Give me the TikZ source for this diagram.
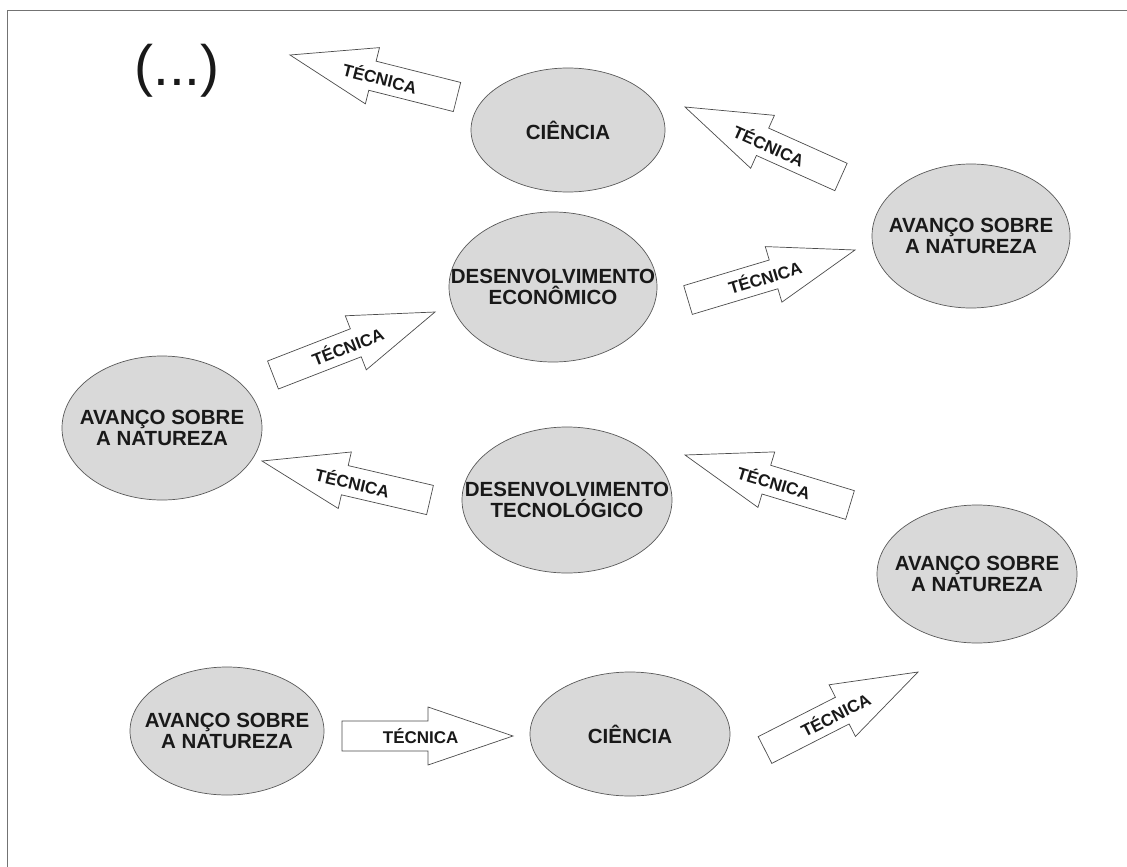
\documentclass[tikz,border=0pt]{standalone}
\usepackage{fontspec}
\setmainfont{Liberation Sans}
\usetikzlibrary{calc,shapes.geometric}

\tikzset{
  etapa/.style={ellipse, draw=black!65, fill=black!15, line width=0.7pt, inner sep=0pt},
  etapatexto/.style={font=\bfseries\fontsize{20.5}{21}\selectfont, align=center, text=black!90},
  seta/.style={draw=black!70, fill=white, line width=0.7pt, line join=miter},
  rotulo/.style={font=\bfseries\fontsize{17}{17}\selectfont, sloped, text=black!90, inner sep=0pt},
}

% block arrow from #1 (tail) to #2 (tip)
\newcommand{\setatecnica}[2]{%
  \coordinate (hb) at ($(#2)!85pt!(#1)$);
  \draw[seta] ($(#1)!15pt!90:(#2)$) -- ($(hb)!15pt!90:(#2)$) -- ($(hb)!29pt!90:(#2)$) -- (#2)
    -- ($(hb)!29pt!-90:(#2)$) -- ($(hb)!15pt!-90:(#2)$) -- ($(#1)!15pt!-90:(#2)$) -- cycle;
  \path (#1) -- (#2) node[rotulo, pos=0.46] {TÉCNICA};
}

\begin{document}
\begin{tikzpicture}[x=1pt, y=-1pt]
  \useasboundingbox (0,0) rectangle (1127,867);
  \draw[black!55, line width=1.5pt] (7.5,867) -- (7.5,10.5) -- (1127,10.5);

  \node [font=\fontsize{57}{57}\selectfont, anchor=base, text=black!90] (reticencias) at (177,85) {(...)};

  \node [etapa, minimum width=194pt, minimum height=124pt, label={[etapatexto]center:CIÊNCIA}] (ciencia1) at (568,130) {};
  \node [etapa, minimum width=198pt, minimum height=144pt, label={[etapatexto]center:AVANÇO SOBRE\\A NATUREZA}] (avanco1) at (971,236) {};
  \node [etapa, minimum width=208pt, minimum height=150pt, label={[etapatexto]center:DESENVOLVIMENTO\\ECONÔMICO}] (economico) at (553,287) {};
  \node [etapa, minimum width=200pt, minimum height=144pt, label={[etapatexto]center:AVANÇO SOBRE\\A NATUREZA}] (avanco2) at (162,428) {};
  \node [etapa, minimum width=210pt, minimum height=146pt, label={[etapatexto]center:DESENVOLVIMENTO\\TECNOLÓGICO}] (tecnologico) at (567,500) {};
  \node [etapa, minimum width=200pt, minimum height=138pt, label={[etapatexto]center:AVANÇO SOBRE\\A NATUREZA}] (avanco3) at (977,574) {};
  \node [etapa, minimum width=194pt, minimum height=128pt, label={[etapatexto]center:AVANÇO SOBRE\\A NATUREZA}] (avanco4) at (227,731) {};
  \node [etapa, minimum width=200pt, minimum height=124pt, label={[etapatexto]center:CIÊNCIA}] (ciencia2) at (630,734) {};

  \coordinate (a1) at (457,97);  \coordinate (a2) at (290,55);
  \coordinate (b1) at (841,177); \coordinate (b2) at (685,107);
  \coordinate (c1) at (688,300); \coordinate (c2) at (855,250);
  \coordinate (d1) at (273,375); \coordinate (d2) at (435,312);
  \coordinate (e1) at (430,500); \coordinate (e2) at (262,461);
  \coordinate (f1) at (850,505); \coordinate (f2) at (685,455);
  \coordinate (g1) at (342,736); \coordinate (g2) at (513,736);
  \coordinate (h1) at (765,750); \coordinate (h2) at (918,672);

  \setatecnica{a1}{a2}
  \setatecnica{b1}{b2}
  \setatecnica{c1}{c2}
  \setatecnica{d1}{d2}
  \setatecnica{e1}{e2}
  \setatecnica{f1}{f2}
  \setatecnica{g1}{g2}
  \setatecnica{h1}{h2}
\end{tikzpicture}
\end{document}
